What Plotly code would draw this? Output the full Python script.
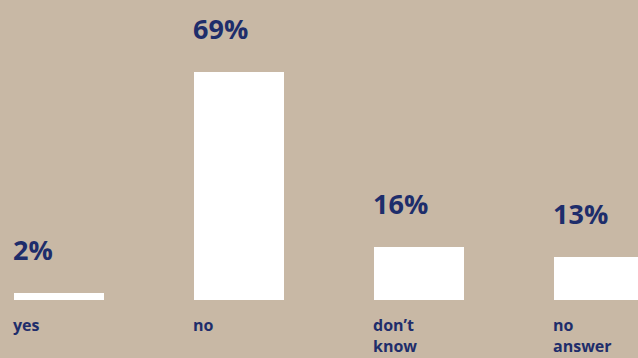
import plotly.graph_objects as go

categories = ["yes", "no", "don’t<br>know", "no<br>answer"]
values = [2, 69, 16, 13]
value_labels = ["2%", "69%", "16%", "13%"]

BG = "#C8B8A5"
NAVY = "#1E2D6B"
FONT = "Open Sans"

xpos = list(range(len(categories)))
bar_w = 0.5

fig = go.Figure()
fig.add_trace(go.Bar(
    x=xpos, y=values, width=bar_w,
    marker=dict(color="#FFFFFF", line=dict(width=0)),
    hoverinfo="skip", showlegend=False,
))

for xi, v, lab, cat in zip(xpos, values, value_labels, categories):
    fig.add_annotation(x=xi - bar_w / 2, y=v, text=lab, showarrow=False,
                       xanchor="left", yanchor="middle", yshift=44, xshift=-3,
                       font=dict(family=FONT, size=27, color=NAVY, weight=700))
    fig.add_annotation(x=xi - bar_w / 2, y=0, text=cat, showarrow=False,
                       xanchor="left", yanchor="top", yshift=-13, xshift=-2,
                       align="left", borderpad=0,
                       font=dict(family=FONT, size=16, color=NAVY, weight=700))

fig.update_layout(
    width=638, height=358,
    margin=dict(l=0, r=0, t=0, b=58),
    paper_bgcolor=BG, plot_bgcolor=BG,
    xaxis=dict(range=[-0.3278, 3.2166], visible=False, fixedrange=True),
    yaxis=dict(range=[0, 90.8], visible=False, fixedrange=True),
    bargap=0,
)

fig.write_html("out.html", config={"displayModeBar": False},
               post_script="document.body.style.margin='0';document.body.style.overflow='hidden';")
